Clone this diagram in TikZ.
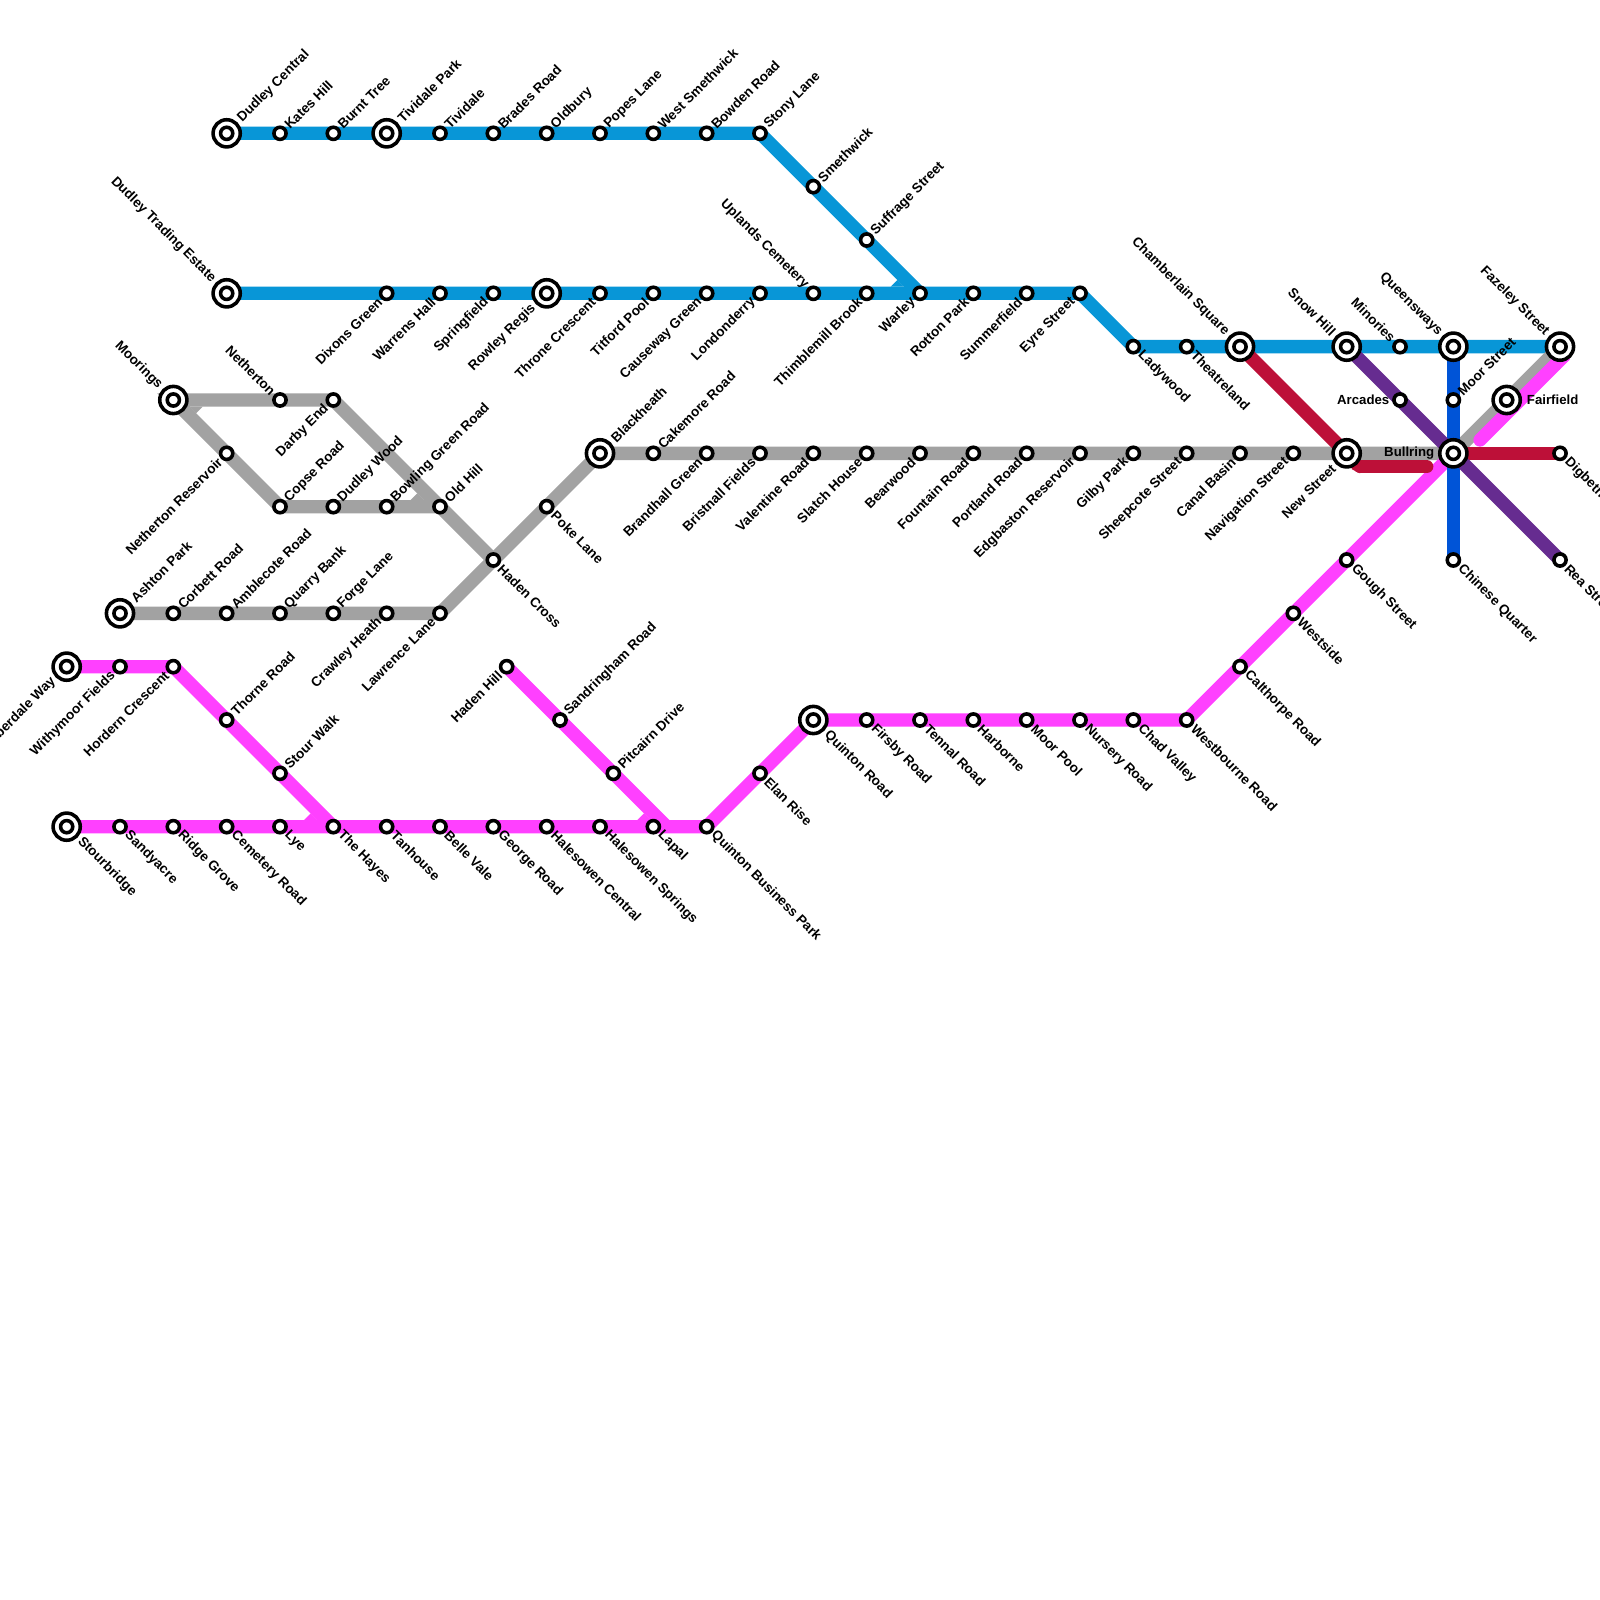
\documentclass[tikz,border=0pt]{standalone}
\usepackage{fontspec}
\setmainfont{Liberation Sans}
\definecolor{lblue}{HTML}{0896D7}
\definecolor{lgrey}{HTML}{A2A2A2}
\definecolor{lmag}{HTML}{FF40FF}
\definecolor{lred}{HTML}{BD1038}
\definecolor{lpur}{HTML}{662C90}
\definecolor{ldark}{HTML}{0054D7}
\tikzset{
  x=1cm,y=-1cm,
  metro/.style={line width=2.5mm,line join=miter},
  stn/.style={circle,draw=black,fill=white,line width=1.9pt,minimum size=6.5pt,inner sep=0pt,outer sep=0pt},
  ict/.style={circle,draw=black,fill=white,line width=1.9pt,minimum size=14.5pt,inner sep=0pt,outer sep=0pt},
  lab/.style={inner sep=0pt,outer sep=0pt,font=\fontsize{7.22}{9}\selectfont\bfseries},
  hlab/.style={inner sep=0pt,outer sep=0pt,font=\fontsize{7.05}{9}\selectfont\bfseries},
  ur/.style={lab,rotate=45,anchor=west,xshift=1.8mm},
  dr/.style={lab,rotate=-45,anchor=west,xshift=1.8mm},
  ul/.style={lab,rotate=-45,anchor=east,xshift=-1.8mm},
  dl/.style={lab,rotate=45,anchor=east,xshift=-1.8mm},
  iur/.style={lab,rotate=45,anchor=west,xshift=3.5mm},
  idr/.style={lab,rotate=-45,anchor=west,xshift=3.5mm},
  iul/.style={lab,rotate=-45,anchor=east,xshift=-3.5mm},
  idl/.style={lab,rotate=45,anchor=east,xshift=-3.5mm},
}
\newcommand{\smallst}[4]{\node[stn] (#2) at (#3) {}; \node[#1] at (#3) {#4};}
\newcommand{\bigst}[4]{\node[ict] (#2) at (#3) {}; \node[stn] at (#3) {}; \node[#1] at (#3) {#4};}
\begin{document}
\begin{tikzpicture}
\useasboundingbox (-0.25,-0.5) rectangle (29.75,29.5);
\fill[white] (-0.25,-0.5) rectangle (29.75,29.5);
% junction coordinates
\coordinate (dc) at (4,2); \coordinate (sl) at (14,2); \coordinate (wa) at (17,5);
\coordinate (dte) at (4,5); \coordinate (es) at (20,5); \coordinate (ld) at (21,6);
\coordinate (fz) at (29,6); \coordinate (cs) at (23,6); \coordinate (ns) at (25,8);
\coordinate (br) at (27,8); \coordinate (dg) at (29,8); \coordinate (sh) at (25,6);
\coordinate (rs) at (29,10); \coordinate (qw) at (27,6); \coordinate (cq) at (27,10);
\coordinate (mo) at (3,7); \coordinate (de) at (6,7); \coordinate (hc) at (9,10);
\coordinate (co) at (5,9); \coordinate (oh) at (8,9); \coordinate (ap) at (2,11);
\coordinate (ll) at (8,11); \coordinate (bh) at (11,8);
\coordinate (aw) at (1,12); \coordinate (hcr) at (3,12); \coordinate (hy) at (6,15);
\coordinate (sb) at (1,15); \coordinate (qb) at (13,15); \coordinate (qr) at (15,13);
\coordinate (wb) at (22,13); \coordinate (hh) at (9.25,12); \coordinate (lj) at (12.25,15);
% lines
\draw[metro,lblue] (dc) -- (sl) -- (wa);
\draw[metro,lblue] (dte) -- (es) -- (ld) -- (fz);
\fill[lblue] (16.575,4.75) -- (16.45,4.875) -- (16.7,4.875) -- cycle;
\draw[metro,lgrey] (de) -- (mo) -- (co) -- (oh);
\draw[metro,lgrey] (de) -- (hc);
\fill[lgrey] (7.575,8.75) -- (7.45,8.875) -- (7.7,8.875) -- cycle;
\fill[lgrey] (3.425,7.25) -- (3.55,7.125) -- (3.3,7.125) -- cycle;
\draw[metro,lgrey] (ap) -- (ll) -- (bh) -- (ns) -- (br) -- (fz);
\draw[metro,lmag] (aw) -- (hcr) -- (hy);
\draw[metro,lmag] (sb) -- (qb) -- (qr) -- (wb) -- (br);
\draw[metro,lmag] (hh) -- (lj);
\fill[lmag] (5.575,14.75) -- (5.45,14.875) -- (5.7,14.875) -- cycle;
\fill[lmag] (11.825,14.75) -- (11.7,14.875) -- (11.95,14.875) -- cycle;
\draw[metro,lmag,line cap=round] (27.5,7.75) -- (28.9,6.35);
\draw[metro,lmag] (28.9,6.35) -- (29.1,6.15);
\draw[metro,lred] (cs) -- (ns);
\draw[metro,lred,line cap=round] (25.25,8.25) -- (26.5,8.25);
\fill[lred] (25,8) -- (25.25,8.25) -- (25.25,8.375) -- (25.1,8.3) -- cycle;
\draw[metro,lred] (br) -- (dg);
\draw[metro,ldark] (qw) -- (cq);
\draw[metro,lpur] (sh) -- (rs);
% stations
\foreach \s/\n/\p/\t in {
 ur/kh/{5,2}/Kates Hill, ur/bt/{6,2}/Burnt Tree, ur/tv/{8,2}/Tividale, ur/bd/{9,2}/Brades Road,
 ur/ob/{10,2}/Oldbury, ur/pl/{11,2}/Popes Lane, ur/wsm/{12,2}/West Smethwick, ur/bwr/{13,2}/Bowden Road,
 ur/stl/{14,2}/Stony Lane, ur/smw/{15,3}/Smethwick, ur/sfs/{16,4}/Suffrage Street,
 dl/dxg/{7,5}/Dixons Green, dl/wrh/{8,5}/Warrens Hall, dl/spf/{9,5}/Springfield,
 dl/thc/{11,5}/Throne Crescent, dl/tfp/{12,5}/Titford Pool, dl/csg/{13,5}/Causeway Green,
 dl/lnd/{14,5}/Londonderry, ul/upc/{15,5}/Uplands Cemetery, dl/thb/{16,5}/Thimblemill Brook,
 dl/wrl/{17,5}/Warley, dl/rtp/{18,5}/Rotton Park, dl/smf/{19,5}/Summerfield, dl/eys/{20,5}/Eyre Street,
 dr/ldw/{21,6}/Ladywood, dr/tht/{22,6}/Theatreland, ul/mnr/{26,6}/Minories,
 ul/nth/{5,7}/Netherton, dl/dbe/{6,7}/Darby End, dl/ntr/{4,8}/Netherton Reservoir,
 ur/cpr/{5,9}/Copse Road, ur/dlw/{6,9}/Dudley Wood, ur/bgr/{7,9}/Bowling Green Road, ur/olh/{8,9}/Old Hill,
 ur/cbr/{3,11}/Corbett Road, ur/amr/{4,11}/Amblecote Road, ur/qbk/{5,11}/Quarry Bank, ur/fgl/{6,11}/Forge Lane,
 dl/crh/{7,11}/Crawley Heath, dl/lwl/{8,11}/Lawrence Lane, dr/hdc/{9,10}/Haden Cross, dr/pkl/{10,9}/Poke Lane,
 ur/ckr/{12,8}/Cakemore Road, dl/bhg/{13,8}/Brandhall Green, dl/bsf/{14,8}/Bristnall Fields,
 dl/vlr/{15,8}/Valentine Road, dl/slh/{16,8}/Slatch House, dl/bwd/{17,8}/Bearwood, dl/ftr/{18,8}/Fountain Road,
 dl/ptr/{19,8}/Portland Road, dl/edr/{20,8}/Edgbaston Reservoir, dl/gbp/{21,8}/Gilby Park,
 dl/shs/{22,8}/Sheepcote Street, dl/cnb/{23,8}/Canal Basin, dl/nvs/{24,8}/Navigation Street,
 dl/wmf/{2,12}/Withymoor Fields, dl/hdn/{3,12}/Hordern Crescent, ur/trr/{4,13}/Thorne Road, ur/stw/{5,14}/Stour Walk,
 dr/sda/{2,15}/Sandyacre, dr/rdg/{3,15}/Ridge Grove, dr/cmr/{4,15}/Cemetery Road, dr/lye/{5,15}/Lye,
 dr/thy/{6,15}/The Hayes, dr/tnh/{7,15}/Tanhouse, dr/blv/{8,15}/Belle Vale, dr/grd/{9,15}/George Road,
 dr/hsc/{10,15}/Halesowen Central, dr/hss/{11,15}/Halesowen Springs, dr/lpl/{12,15}/Lapal,
 dr/qbp/{13,15}/Quinton Business Park, dr/eln/{14,14}/Elan Rise,
 dl/hdh/{9.25,12}/Haden Hill, ur/snr/{10.25,13}/Sandringham Road, ur/ptc/{11.25,14}/Pitcairn Drive,
 dr/fsb/{16,13}/Firsby Road, dr/tnl/{17,13}/Tennal Road, dr/hbn/{18,13}/Harborne, dr/mrp/{19,13}/Moor Pool,
 dr/nsr/{20,13}/Nursery Road, dr/chv/{21,13}/Chad Valley, dr/wbr/{22,13}/Westbourne Road,
 dr/clt/{23,12}/Calthorpe Road, dr/wsd/{24,11}/Westside, dr/ggs/{25,10}/Gough Street,
 ur/mrs/{27,7}/Moor Street, dr/cqr/{27,10}/Chinese Quarter, dr/rst/{29,10}/Rea Street, dr/dgb/{29,8}/Digbeth
}{\edef\q{\p}\expandafter\smallst\expandafter{\s}{\n}{\q}{\t}}
\smallst{hlab,anchor=east,xshift=-2mm}{arc}{26,7}{Arcades}
% interchanges
\foreach \s/\n/\p/\t in {
 iur/dcl/{4,2}/Dudley Central, iur/tvp/{7,2}/Tividale Park, iul/dts/{4,5}/Dudley Trading Estate, idl/rwr/{10,5}/Rowley Regis,
 iul/chs/{23,6}/Chamberlain Square, iul/snh/{25,6}/Snow Hill, iul/qns/{27,6}/Queensways, iul/fzs/{29,6}/Fazeley Street,
 iul/mrg/{3,7}/Moorings, iur/bkh/{11,8}/Blackheath, idl/nws/{25,8}/New Street, iur/asp/{2,11}/Ashton Park,
 idl/amb/{1,12}/Amberdale Way, idr/stb/{1,15}/Stourbridge, idr/qnr/{15,13}/Quinton Road
}{\edef\q{\p}\expandafter\bigst\expandafter{\s}{\n}{\q}{\t}}
\bigst{hlab,anchor=east,xshift=-3.6mm}{bul}{27,8}{Bullring}
\bigst{hlab,anchor=west,xshift=3.8mm}{ffd}{28,7}{Fairfield}
\end{tikzpicture}
\end{document}
